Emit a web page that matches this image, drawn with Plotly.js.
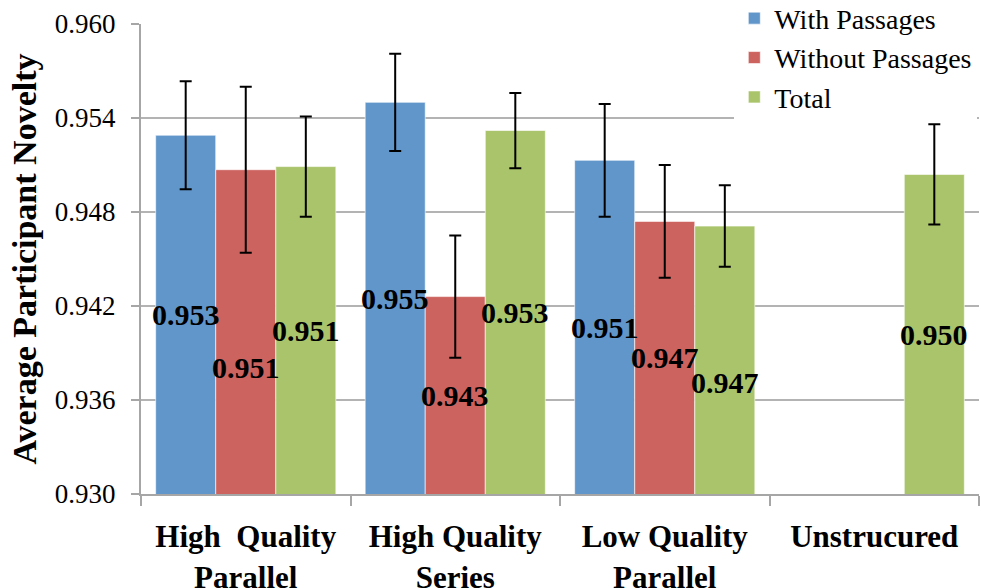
<!DOCTYPE html>
<html>
<head>
<meta charset="utf-8">
<script src="https://cdn.plot.ly/plotly-3.0.1.min.js"></script>
<style>html,body{margin:0;padding:0;background:#fff;}#chart{width:982px;height:588px;}</style>
</head>
<body>
<div id="chart"></div>
<script>
// ---- data ----
var categories = ["High\u00a0 Quality<br>Parallel", "High Quality<br>Series", "Low Quality<br>Parallel", "Unstrucured"];
var seriesNames = ["With Passages", "Without Passages", "Total"];
var withPassages    = [0.9529, 0.9550, 0.9513, null];
var withPassagesErr = [0.00345, 0.0031, 0.0036, null];
var withoutPassages    = [0.9507, 0.9426, 0.9474, null];
var withoutPassagesErr = [0.0053, 0.0039, 0.0036, null];
var total    = [0.9509, 0.9532, 0.9471, 0.9504];
var totalErr = [0.0032, 0.0024, 0.0026, 0.0032];
var yTickVals = [0.930, 0.936, 0.942, 0.948, 0.954, 0.960];
var yTickText = ["0.930", "0.936", "0.942", "0.948", "0.954", "0.960"];

// ---- styling ----
var colors = ["#6196CA", "#CD635F", "#AAC46C"];
var yMin = 0.930, yMax = 0.960;
var bargap = 0.14;
var values = [withPassages, withoutPassages, total];
var errs = [withPassagesErr, withoutPassagesErr, totalErr];
// manual label nudges in pixels (as in the original, some labels were moved)
var labelNudge = [[0, 0, 0, 0], [-36, 0, 0, 0], [0, 0, -22, 0]];

var traces = values.map(function (v, i) {
  return {
    type: "bar",
    name: seriesNames[i],
    x: categories,
    y: v,
    marker: { color: colors[i], line: { color: "rgba(255,255,255,0.6)", width: 1 } },
    error_y: { type: "data", array: errs[i], visible: true, color: "#000", thickness: 2, width: 6 },
    hoverinfo: "skip"
  };
});

var annotations = [];
var slot = (1 - bargap) / values.length;
values.forEach(function (v, i) {
  v.forEach(function (val, j) {
    if (val === null) return;
    annotations.push({
      x: j + (i - (values.length - 1) / 2) * slot,
      y: (val + yMin) / 2,
      xref: "x", yref: "y",
      text: val.toFixed(3),
      showarrow: false,
      yshift: labelNudge[i][j],
      font: { family: "Liberation Serif", size: 30, color: "#000", weight: "bold" }
    });
  });
});

var layout = {
  width: 982, height: 588,
  margin: { l: 141, r: 3, t: 24, b: 94, pad: 0, autoexpand: false },
  paper_bgcolor: "#fff", plot_bgcolor: "#fff",
  barmode: "group", bargap: bargap, bargroupgap: 0,
  showlegend: true,
  legend: {
    x: 0.708, y: 1.065, xanchor: "left", yanchor: "top",
    bgcolor: "#fff", borderwidth: 0,
    font: { family: "Liberation Serif", size: 28, color: "#000" },
    tracegroupgap: 0
  },
  xaxis: {
    type: "category",
    showline: true, linecolor: "#a6a6a6", linewidth: 2,
    ticks: "outside", tickson: "boundaries", ticklen: 10, tickcolor: "#a6a6a6", tickwidth: 2,
    showgrid: false,
    ticklabelstandoff: 14,
    tickfont: { family: "Liberation Serif", size: 31, color: "#000", weight: "bold" }
  },
  yaxis: {
    range: [yMin, yMax],
    tickvals: yTickVals, ticktext: yTickText,
    showline: true, linecolor: "#a6a6a6", linewidth: 2,
    ticks: "outside", ticklen: 8, tickcolor: "#a6a6a6", tickwidth: 2,
    showgrid: true, gridcolor: "#b3b3b3", gridwidth: 2,
    zeroline: false,
    ticklabelstandoff: 10,
    tickfont: { family: "Liberation Serif", size: 27, color: "#000" },
    title: { text: "Average Participant Novelty", font: { family: "Liberation Serif", size: 34, color: "#000", weight: "bold" }, standoff: 8 }
  },
  annotations: annotations
};

Plotly.newPlot("chart", traces, layout, { staticPlot: true, displayModeBar: false });
</script>
</body>
</html>
